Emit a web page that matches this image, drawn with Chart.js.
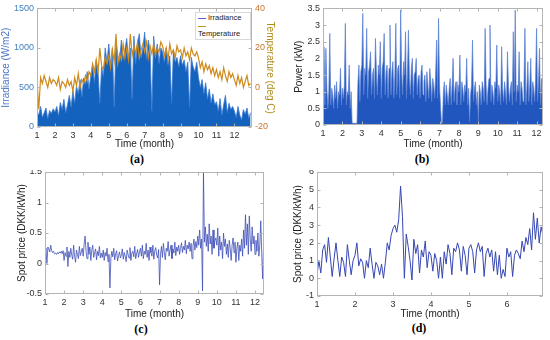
<!DOCTYPE html>
<html lang="en">
<head>
<meta charset="UTF-8">
<title>PV, load and spot price</title>
<script src="https://cdn.jsdelivr.net/npm/chart.js"></script>
<style>
  body { margin: 0; background: #fff; }
  #fig { position: relative; width: 550px; height: 340px; overflow: hidden; font-family: 'Liberation Sans', Arial, sans-serif; }
  canvas { position: absolute; }
  .clip { position: absolute; top: 170px; width: 275px; height: 170px; overflow: hidden; }
  .tag { position: absolute; font-family: 'Liberation Serif', 'Times New Roman', serif; font-weight: bold; font-size: 12px; transform: translate(-50%, -50%); }
  #legendA { position: absolute; left: 195px; top: 12px; width: 50px; padding: 1px 2px; border: 1px solid #d8d8d8; background: #fff; font-size: 7.5px; line-height: 8px; color: #222; }
  #legendA span { display: inline-block; width: 8px; height: 0; vertical-align: middle; margin-right: 2px; }
</style>
</head>
<body>
<div id="fig">
  <canvas id="chartA" width="276" height="150" style="left:0;top:0;width:276px;height:150px"></canvas>
  <canvas id="chartB" width="257" height="150" style="left:293px;top:0;width:257px;height:150px"></canvas>
  <div class="clip" style="left:0">
    <canvas id="chartC" width="259" height="160" style="left:16px;top:-10px;width:259px;height:160px"></canvas>
  </div>
  <div class="clip" style="left:275px">
    <canvas id="chartD" width="258" height="160" style="left:17px;top:-10px;width:258px;height:160px"></canvas>
  </div>
  <div id="legendA">
    <div><span style="border-top:1px solid #5b5fd0"></span>Irradiance</div>
    <div><span style="border-top:1px solid #b09a20"></span>Temperature</div>
  </div>
  <div class="tag" style="left:137px;top:159px">(a)</div>
  <div class="tag" style="left:422px;top:159px">(b)</div>
  <div class="tag" style="left:141px;top:329px">(c)</div>
  <div class="tag" style="left:419px;top:328px">(d)</div>
</div>

<script>
// (a) irradiance peaks (W/m2) and temperature (deg C), one value every 0.1 month from month 1
const irradiance = [
  200, 150, 260, 120, 180, 240, 100, 210, 170, 230,
  190, 260, 140, 310, 220, 350, 180, 280, 400, 250,
  460, 300, 520, 420, 600, 380, 620, 540, 700, 480,
  650, 780, 560, 850, 700, 300, 760, 640, 1000, 820,
  1050, 780, 1000, 250, 1080, 900, 820, 1100, 850, 980,
  1120, 840, 1000, 350, 1150, 800, 1060, 1180, 870, 1000,
  1200, 850, 1100, 950, 200, 1150, 900, 1050, 800, 1000,
  950, 820, 1000, 780, 900, 300, 960, 820, 880, 760,
  900, 780, 850, 700, 820, 250, 880, 760, 700, 820,
  620, 500, 600, 420, 560, 350, 480, 300, 420, 280,
  320, 200, 360, 150, 280, 400, 180, 300, 220, 260,
  200, 120, 260, 150, 90, 220, 160, 240, 110, 180
];
const temperature = [
  4, -11, 5, 2, 6, 3, 0, 5, 2, 4,
  3, 1, 5, -1, 3, 2, 0, 4, 1, 3,
  -2, 5, 1, 7, 0, 4, 2, 6, 3, 8,
  6, 12, 8, 14, 7, 20, 11, 9, 15, 12,
  16, 10, 19, 13, 27, 12, 17, 14, 22, 15,
  20, 14, 27, 16, 21, 17, 23, 15, 19, 22,
  18, 23, 15, 21, 17, 22, 16, 20, 18, 23,
  21, 16, 20, 14, 22, 17, 19, 15, 21, 18,
  19, 15, 20, 16, 18, 14, 20, 17, 16, 18,
  15, 10, 13, 8, 12, 9, 11, 7, 10, 6,
  9, 5, 8, 4, 10, 6, 3, 8, 5, 7,
  4, 1, 6, 2, 5, 0, 3, 6, 1, 2
];

// (b) PV power (kW), one value every 0.05 month from month 1
const powerKW = [
  0.9, 2.35, 0.6, 2.3, 1.1, 0.5, 1.0, 2.75, 0.6, 1.1, 0.9, 0.5, 1.2, 0.8, 1.3, 0.5, 1.0, 0.9, 1.7, 0.6,
  1.1, 0.8, 1.2, 3.05, 0.6, 1.0, 0.9, 1.8, 0.5, 1.0, 0.06, 0.05, 0.05, 0.05, 0.05, 0.06, 1.3, 1.8, 0.7, 1.6,
  1.8, 3.35, 0.9, 1.7, 1.5, 2.9, 0.8, 1.6, 1.8, 2.2, 0.9, 1.5, 1.7, 0.8, 2.6, 1.6, 0.9, 1.8, 1.5, 2.5,
  0.8, 1.7, 1.9, 2.75, 0.9, 1.6, 1.8, 0.8, 1.7, 3.0, 0.9, 1.6, 1.9, 0.8, 1.5, 3.05, 0.9, 1.7, 1.8, 0.8,
  3.45, 1.6, 0.9, 1.9, 1.5, 2.8, 0.8, 1.6, 2.85, 1.4, 0.9, 1.7, 2.0, 0.8, 1.5, 1.6, 2.0, 0.9, 1.4, 1.5,
  0.8, 1.6, 1.8, 0.9, 1.3, 1.5, 0.7, 1.6, 1.2, 0.8, 1.7, 1.3, 0.7, 1.4, 1.2, 0.8, 1.5, 2.55, 0.8, 3.2,
  1.2, 0.6, 0.05, 0.06, 1.0, 1.3, 0.6, 1.2, 0.9, 0.6, 1.1, 1.4, 0.6, 1.2, 2.0, 0.7, 1.1, 1.3, 0.6, 1.2,
  1.0, 2.1, 0.6, 1.3, 1.1, 0.7, 1.2, 1.0, 2.0, 0.6, 1.1, 0.1, 0.9, 1.2, 2.55, 0.7, 1.1, 1.3, 0.6, 1.0,
  0.1, 1.2, 1.0, 0.6, 1.3, 1.1, 0.7, 2.9, 1.2, 0.6, 1.1, 1.4, 3.0, 0.7, 1.2, 1.0, 0.6, 1.3, 1.1, 2.4,
  0.7, 1.2, 1.0, 0.6, 2.35, 1.1, 0.7, 1.3, 1.0, 0.6, 2.2, 1.2, 0.7, 1.1, 1.3, 0.6, 2.8, 1.0, 3.45, 0.7,
  1.2, 1.0, 2.2, 0.6, 1.3, 1.1, 0.7, 1.2, 2.9, 0.6, 1.1, 1.9, 0.7, 1.2, 2.0, 0.6, 1.3, 1.1, 0.7, 1.4,
  2.9, 0.7, 1.3, 2.3, 0.6, 1.4, 0.5, 1.0
];

// (c) spot price (DKK/kWh), one value every 0.05 month from month 1
const spotYear = [
  0.22, 0.25, 0.0, 0.27, 0.24, 0.19, 0.30, 0.21, 0.18, 0.20, 0.16, 0.17, 0.15, 0.18, 0.16, 0.19, 0.17, 0.20, 0.16, 0.21,
  0.05, 0.18, 0.12, 0.27, -0.05, 0.20, 0.10, 0.25, 0.14, 0.07, 0.30, 0.12, 0.02, 0.22, 0.15, 0.08, 0.28, 0.13, 0.19, 0.25,
  0.12, 0.32, 0.45, 0.20, 0.08, 0.35, 0.15, 0.27, 0.05, 0.22, 0.30, 0.10, 0.18, 0.24, 0.06, 0.20, 0.13, 0.28, 0.09, 0.17,
  0.10, 0.22, 0.05, 0.18, 0.12, 0.25, 0.03, 0.15, -0.40, 0.08, 0.20, 0.11, 0.25, 0.06, 0.16, 0.21, 0.04, 0.13, 0.19, 0.09,
  0.14, 0.24, 0.07, 0.18, 0.12, 0.03, 0.22, 0.15, 0.09, 0.26, 0.05, 0.17, 0.20, 0.11, 0.28, 0.08, 0.16, 0.23, 0.10, 0.19,
  0.25, 0.12, 0.30, 0.08, 0.20, 0.15, 0.33, 0.10, 0.22, 0.05, 0.27, 0.18, 0.12, 0.30, 0.07, 0.21, 0.26, 0.14, 0.09, 0.23,
  -0.35, 0.15, 0.28, 0.10, 0.33, 0.18, 0.06, 0.25, 0.20, 0.36, 0.12, 0.22, 0.30, 0.08, 0.24, 0.17, 0.35, 0.13, 0.27, 0.20,
  0.30, 0.15, 0.25, 0.34, 0.18, 0.28, 0.22, 0.38, 0.16, 0.30, 0.24, 0.35, 0.20, 0.33, 0.08, 0.28, 0.40, 0.22, 0.36, 0.26,
  0.45, 0.30, 0.55, 0.25, 0.40, -0.45, 1.50, 0.35, 0.60, 0.28, 0.48, 0.20, 0.65, 0.32, 0.45, 0.15, 0.55, 0.25, 0.38, 0.42,
  0.30, 0.58, 0.12, 0.45, 0.22, 0.35, 0.08, 0.50, 0.28, 0.40, 0.15, 0.32, 0.10, 0.38, 0.25, 0.05, 0.30, 0.42, 0.18, 0.35,
  0.02, 0.25, 0.35, 0.05, 0.30, 0.20, 0.40, 0.12, 0.55, 0.25, 0.80, 0.30, 0.65, 0.15, 0.78, 0.40, 0.20, 0.60, 0.32, 0.45,
  0.15, 0.38, 0.20, 0.50, 0.12, 0.30, 0.70, 0.18, -0.25, 0.35, 0.40
];

// (d) spot price (DKK/kWh), one value every 0.05 month from month 1
const spotHalf = [
  0.2, 1.0, 0.3, 1.6, 1.9, 0.9, 2.3, 1.2, 0.1, 1.1, 2.0, 1.0, 0.1, 1.2, 0.9, 0.1, 1.9, 1.0, 0.2, 1.0,
  1.3, 2.0, 0.7, 1.1, 0.9, 0.0, 1.0, 0.6, 1.7, 0.8, 0.0, 0.9, 0.7, 0.2, 0.8, 0.0, 0.9, 2.0, 1.6, 2.4,
  2.8, 3.0, 2.6, 3.3, 5.2, 3.5, 0.0, 2.5, 1.8, 1.0, -0.1, 2.2, 1.4, 1.9, 0.3, 1.6, 1.2, 2.1, 0.6, 1.5,
  1.3, 0.4, 1.4, 1.0, 0.0, 1.2, 0.0, 1.5, 0.8, 1.9, 1.4, 0.2, 1.7, 1.5, 2.0, 1.6, 0.4, 1.8, 1.3, 0.2,
  1.7, 1.9, 1.5, 0.3, 1.6, 2.0, 1.5, 1.8, 0.1, 1.4, 1.7, 1.2, 1.6, 0.4, 1.5, 0.2, 1.3, 0.0, 0.5, 0.1,
  1.7, 1.2, 1.5, 0.1, 1.3, 1.6, 1.4, 1.1, 2.1, 1.5, 2.3, 1.9, 2.8, 1.6, 3.7, 2.2, 3.4, 2.0, 2.9, 2.4
];

Chart.defaults.font.family = "'Liberation Sans', Arial, sans-serif";
Chart.defaults.animation = false;

// time axis: values are sampled on a regular month grid
function toPoints(values, start, step) {
  return values.map((v, i) => ({ x: start + i * step, y: v }));
}

// MATLAB-style box with inward ticks
const boxPlugin = {
  id: 'box',
  afterDraw(chart) {
    const ctx = chart.ctx, a = chart.chartArea;
    const l = Math.round(a.left) + 0.5, t = Math.round(a.top) + 0.5;
    const r = Math.round(a.right) - 0.5, b = Math.round(a.bottom) - 0.5;
    ctx.save();
    ctx.strokeStyle = '#b4b4b4';
    ctx.lineWidth = 1;
    ctx.strokeRect(l, t, r - l, b - t);
    const twoY = !!chart.scales.y2;
    Object.values(chart.scales).forEach(s => {
      s.ticks.forEach(tk => {
        const p = Math.round(s.getPixelForValue(tk.value)) + 0.5;
        ctx.beginPath();
        if (s.isHorizontal()) {
          ctx.moveTo(p, b); ctx.lineTo(p, b - 3);
          ctx.moveTo(p, t); ctx.lineTo(p, t + 3);
        } else if (s.position === 'right') {
          ctx.moveTo(r, p); ctx.lineTo(r - 3, p);
        } else {
          ctx.moveTo(l, p); ctx.lineTo(l + 3, p);
          if (!twoY) { ctx.moveTo(r, p); ctx.lineTo(r - 3, p); }
        }
        ctx.stroke();
      });
    });
    ctx.restore();
  }
};

function xScale(max, height) {
  return {
    type: 'linear', min: 1, max: max,
    afterFit: s => { s.height = height; },
    grid: { display: false, drawTicks: false }, border: { display: false },
    ticks: { stepSize: 1, includeBounds: false, autoSkip: false, maxRotation: 0, color: '#333', font: { size: 9 }, padding: 3 },
    title: { display: true, text: 'Time (month)', color: '#222', font: { size: 10 }, padding: 0 }
  };
}

function yScale(min, max, step, width, text, tickColor, titleColor, position) {
  return {
    type: 'linear', min: min, max: max, position: position || 'left',
    afterFit: s => { s.width = width; },
    grid: { display: false, drawTicks: false }, border: { display: false },
    ticks: { stepSize: step, includeBounds: false, color: tickColor, font: { size: 9 }, padding: 3,
             callback: v => String(+v.toFixed(2)) },
    title: { display: true, text: text, color: titleColor, font: { size: 10 }, padding: 0 }
  };
}

function baseOptions(scales, padding) {
  return {
    responsive: false, maintainAspectRatio: false,
    layout: { padding: padding },
    plugins: { legend: { display: false }, tooltip: { enabled: false } },
    elements: { point: { radius: 0 }, line: { tension: 0 } },
    scales: scales
  };
}

// (a)
new Chart(document.getElementById('chartA'), {
  type: 'line',
  data: {
    datasets: [
      { label: 'Temperature', data: toPoints(temperature, 1, 0.1), yAxisID: 'y2', order: 0,
        borderColor: '#cf8a1c', borderWidth: 1.2, fill: false },
      { label: 'Irradiance', data: toPoints(irradiance, 1, 0.1), yAxisID: 'y', order: 1,
        borderColor: '#3a78d0', backgroundColor: '#1262be', borderWidth: 0.8, fill: 'origin' }
    ]
  },
  options: baseOptions({
    x: xScale(12.98, 23),
    y: yScale(0, 1500, 500, 37, 'Irradiance (W/m2)', '#3f80c2', '#4a74c6'),
    y2: yScale(-20, 40, 20, 24, 'Temperature (deg C)', '#c8762a', '#b08c1a', 'right')
  }, { top: 7, right: 0, bottom: 0, left: 0 }),
  plugins: [boxPlugin]
});

// (b)
new Chart(document.getElementById('chartB'), {
  type: 'line',
  data: {
    datasets: [
      { label: 'Power', data: toPoints(powerKW, 1, 0.05),
        borderColor: '#5a7fd2', backgroundColor: '#2056bd', borderWidth: 0.7, fill: 'origin' }
    ]
  },
  options: baseOptions({
    x: xScale(12.33, 25),
    y: yScale(0, 3.5, 0.5, 30, 'Power (kW)', '#333', '#222')
  }, { top: 7, right: 7, bottom: 0, left: 0 }),
  plugins: [boxPlugin]
});

// (c)
new Chart(document.getElementById('chartC'), {
  type: 'line',
  data: {
    datasets: [
      { label: 'Spot price', data: toPoints(spotYear, 1, 0.05),
        borderColor: '#3f4fb8', borderWidth: 0.8, fill: false }
    ]
  },
  options: baseOptions({
    x: xScale(12.47, 26),
    y: yScale(-0.5, 1.5, 0.5, 29, 'Spot price (DKK/kWh)', '#333', '#222')
  }, { top: 12, right: 11, bottom: 0, left: 0 }),
  plugins: [boxPlugin]
});

// (d)
new Chart(document.getElementById('chartD'), {
  type: 'line',
  data: {
    datasets: [
      { label: 'Spot price', data: toPoints(spotHalf, 1, 0.05),
        borderColor: '#3646b2', borderWidth: 1, fill: false }
    ]
  },
  options: baseOptions({
    x: xScale(6.95, 24),
    y: yScale(-1, 6, 1, 25, 'Spot price (DKK/kWh)', '#333', '#222')
  }, { top: 12, right: 7, bottom: 0, left: 0 }),
  plugins: [boxPlugin]
});
</script>
</body>
</html>
